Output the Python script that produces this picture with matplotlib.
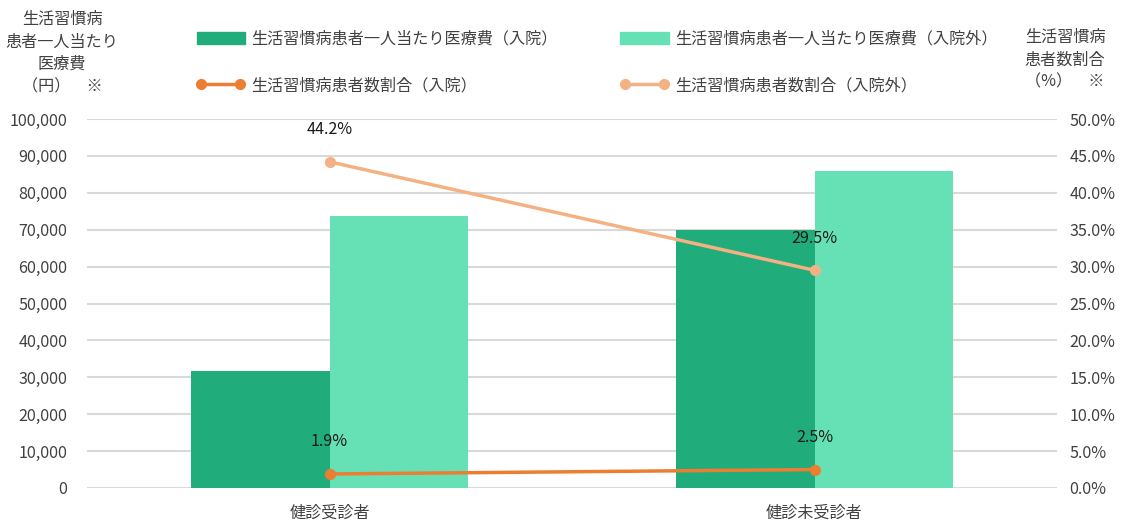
import matplotlib.pyplot as plt
from matplotlib.patches import Patch
from matplotlib.lines import Line2D

plt.rcParams['font.family'] = ['Noto Sans CJK JP', 'DejaVu Sans']
plt.rcParams['font.size'] = 11.6
plt.rcParams['text.color'] = '#404040'

categories = ['健診受診者', '健診未受診者']
cost_inpatient = [31700, 70000]
cost_outpatient = [73700, 85900]
rate_inpatient = [1.9, 2.5]
rate_outpatient = [44.2, 29.5]

series_names = ['生活習慣病患者一人当たり医療費（入院）',
                '生活習慣病患者一人当たり医療費（入院外）',
                '生活習慣病患者数割合（入院）',
                '生活習慣病患者数割合（入院外）']

c_dark = '#21AC7B'
c_light = '#66E1B5'
o_dark = '#ED7D31'
o_light = '#F4B183'
txt = '#404040'

fig = plt.figure(figsize=(11.21, 5.22), dpi=100)
ax = fig.add_axes([87 / 1121, 34 / 522, 970 / 1121, 369 / 522])
ax2 = ax.twinx()

x = list(range(len(categories)))
w = 0.285
ax.bar([i - w / 2 for i in x], cost_inpatient, width=w, color=c_dark, zorder=2)
ax.bar([i + w / 2 for i in x], cost_outpatient, width=w, color=c_light, zorder=2)
ax.set_xlim(-0.5, 1.5)
ax.set_ylim(0, 100000)
ax.set_yticks(range(0, 100001, 10000))
ax.set_yticklabels([f'{v:,}' for v in range(0, 100001, 10000)])
ax.grid(axis='y', color='#d9d9d9', lw=1.5, zorder=0)
ax.set_xticks(x)
ax.set_xticklabels(categories)

ax2.plot(x, rate_inpatient, color=o_dark, lw=2.5, marker='o', ms=7, zorder=3)
ax2.plot(x, rate_outpatient, color=o_light, lw=2.5, marker='o', ms=7, zorder=3)
ax2.set_ylim(0, 50)
ax2.set_yticks(range(0, 51, 5))
ax2.set_yticklabels([f'{v:.1f}%' for v in range(0, 51, 5)])
for vals in (rate_inpatient, rate_outpatient):
    for i, v in zip(x, vals):
        ax2.annotate(f'{v}%', (i, v), xytext=(0, 32), textcoords='offset pixels',
                     ha='center', va='center', color='#1a1a1a')

for a in (ax, ax2):
    for s in a.spines.values():
        s.set_visible(False)
    a.tick_params(length=0, colors=txt)
ax.tick_params(axis='y', pad=14)
ax2.tick_params(axis='y', pad=9)
ax.tick_params(axis='x', pad=12)

fig.text(62 / 1121, 1 - 11 / 522, '生活習慣病\n患者一人当たり\n医療費\n（円）　※',
         ha='center', va='top', linespacing=1.42)
fig.text(1065 / 1121, 1 - 29 / 522, '生活習慣病\n患者数割合\n（%）　※',
         ha='center', va='top', linespacing=1.42)

handles = [Patch(color=c_dark), Line2D([], [], color=o_dark, lw=2.5, marker='o', ms=7),
           Patch(color=c_light), Line2D([], [], color=o_light, lw=2.5, marker='o', ms=7)]
labels = [series_names[0], series_names[2], series_names[1], series_names[3]]
fig.legend(handles, labels, ncol=2, loc='upper left', bbox_to_anchor=(182 / 1121, 1 - 16 / 522),
           frameon=False, numpoints=2, handlelength=3.0, handleheight=0.8,
           handletextpad=0.4, columnspacing=3.9, labelspacing=1.85)

fig.savefig('out.png', dpi=100)
